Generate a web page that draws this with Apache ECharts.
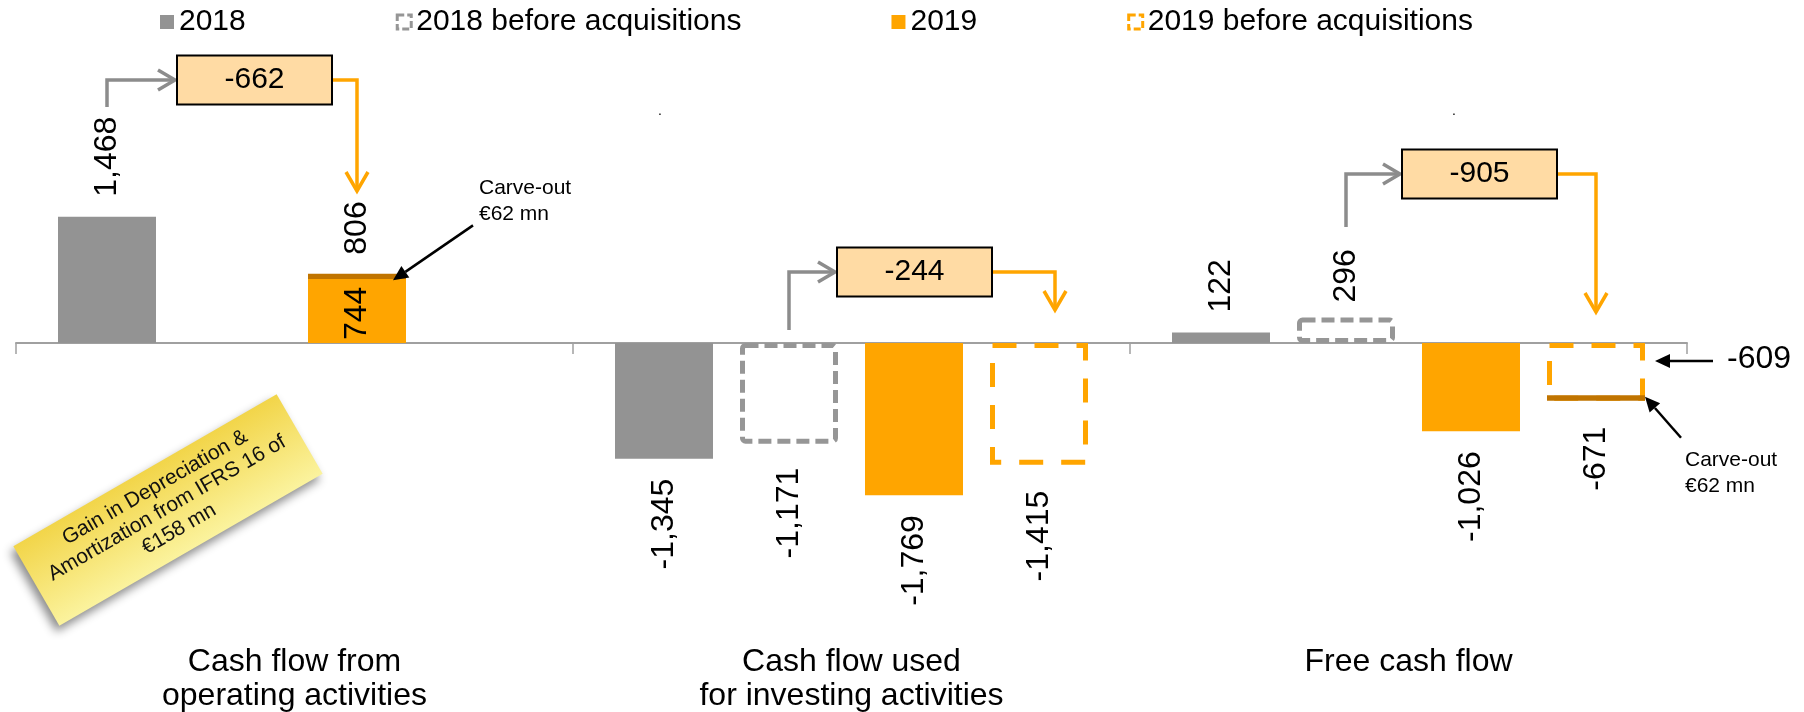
<!DOCTYPE html>
<html>
<head>
<meta charset="utf-8">
<script src="https://cdn.jsdelivr.net/npm/echarts@6.0.0/dist/echarts.min.js"></script>
<style>
  html, body { margin: 0; padding: 0; background: #fff; }
  #chart { width: 1804px; height: 712px; }
</style>
</head>
<body>
<div id="chart"></div>
<script>
// ---- data ----
const categories = ["Cash flow from\noperating activities", "Cash flow used\nfor investing activities", "Free cash flow"];
const cf2018 = [1468, -1345, 122];
const cf2018Before = [null, -1171, 296];
const cf2019 = [744, -1769, -1026];
const carveOut2019 = [62, null, null];          // stacked on the 2019 operating bar
const cf2019Before = [null, -1415, -671];
const afterCarveOut = [null, null, -609];       // 2019 FCF before acquisitions, excluding carve-out
const carveOutBefore = [null, null, -62];
const deltas = [-662, -244, -905];
const deltaFrom = [0, 1, 1];                    // bar slot the change starts from
const deltaTo = [2, 3, 3];                      // bar slot it ends at

// ---- style / layout ----
const FONT = '"Liberation Sans", Arial, Helvetica, sans-serif';
const GRAY = "#939393", DASH_GRAY = "#969696", ORANGE = "#FFA500", DARK = "#C07400";
const ARROW_GRAY = "#8C8C8C", BOX_FILL = "#FFDBA4";
const BAR_W = 98, BAR_GAP = 0.2755;

const fmt = v => v.toLocaleString("en-US");

function barData(values, posLabel, negDist) {
  return values.map(v => v == null ? "-" : {
    value: v,
    label: v >= 0
      ? (posLabel || { position: "top", align: "left" })
      : Object.assign({ position: "bottom", align: "right" }, negDist ? { distance: negDist } : {})
  });
}

const valueLabel = {
  show: true, rotate: 90, verticalAlign: "middle", distance: 20,
  fontSize: 32, color: "#000", fontFamily: FONT,
  formatter: p => fmt(p.value)
};

const barBase = { type: "bar", barWidth: BAR_W, barGap: (BAR_GAP * 100) + "%" };

const option = {
  animation: false,
  backgroundColor: "#fff",
  legend: {
    left: 155, top: 2, itemGap: 150, itemWidth: 14, itemHeight: 14,
    selectedMode: false,
    textStyle: { fontSize: 30, color: "#000", fontFamily: FONT },
    data: [
      { name: "2018", icon: "rect" },
      { name: "2018 before acquisitions", icon: "rect",
        itemStyle: { color: "#fff", borderColor: DASH_GRAY, borderWidth: 3, borderType: [7, 3] } },
      { name: "2019", icon: "rect" },
      { name: "2019 before acquisitions", icon: "rect",
        itemStyle: { color: "#fff", borderColor: ORANGE, borderWidth: 3, borderType: [7, 3] } }
    ]
  },
  grid: { left: 16, right: 117, top: 85, bottom: 111, containLabel: false, outerBoundsMode: "none" },
  xAxis: [
    {
      type: "category", data: categories,
      axisLine: { onZero: true, lineStyle: { color: "#A0A0A0", width: 2 } },
      axisTick: { show: true, length: 11, lineStyle: { color: "#A0A0A0", width: 1.5 } },
      axisLabel: { margin: 44, fontSize: 32, lineHeight: 34, color: "#000", fontFamily: FONT, interval: 0 },
      splitLine: { show: false }
    },
    { type: "category", data: categories, show: false }
  ],
  yAxis: { type: "value", min: -3000, max: 3000, show: false, splitLine: { show: false } },
  series: [
    Object.assign({}, barBase, {
      name: "2018", data: barData(cf2018),
      itemStyle: { color: GRAY }, label: valueLabel
    }),
    Object.assign({}, barBase, {
      name: "2018 before acquisitions",
      data: barData(cf2018Before, { position: "top", align: "left", distance: 15 }, 24),
      itemStyle: { color: "rgba(0,0,0,0)", borderColor: DASH_GRAY, borderWidth: 5, borderType: [13, 6], borderRadius: 3 },
      label: valueLabel
    }),
    Object.assign({}, barBase, {
      name: "2019", stack: "y19", data: barData(cf2019, { position: "insideBottom", align: "left", distance: 3 }),
      itemStyle: { color: ORANGE }, label: valueLabel
    }),
    Object.assign({}, barBase, {
      name: "Carve-out 2019", stack: "y19", data: barData(carveOut2019),
      itemStyle: { color: DARK },
      label: Object.assign({}, valueLabel, { distance: 19, formatter: p => fmt(cf2019[p.dataIndex] + p.value) })
    }),
    Object.assign({}, barBase, {
      name: "2019 before acquisitions", data: barData(cf2019Before, null, 26),
      itemStyle: { color: "rgba(0,0,0,0)", borderColor: ORANGE, borderWidth: 5, borderType: [24, 18] },
      label: valueLabel
    }),
    // overlay axis: carve-out drawn inside the "2019 before acquisitions" slot
    Object.assign({}, barBase, { name: "_s0", xAxisIndex: 1, data: [] }),
    Object.assign({}, barBase, { name: "_s1", xAxisIndex: 1, data: [] }),
    Object.assign({}, barBase, { name: "_s2", xAxisIndex: 1, data: [] }),
    Object.assign({}, barBase, {
      name: "_base", xAxisIndex: 1, stack: "carve", data: afterCarveOut,
      itemStyle: { color: "rgba(0,0,0,0)" }, silent: true
    }),
    Object.assign({}, barBase, {
      name: "Carve-out before", xAxisIndex: 1, stack: "carve", data: carveOutBefore,
      itemStyle: { color: DARK }
    })
  ]
};

const chart = echarts.init(document.getElementById("chart"), null, { renderer: "canvas" });
chart.setOption(option);

// ---- annotations, positioned from the chart's own scales ----
const SLOT = BAR_W * (1 + BAR_GAP);
const catX = i => chart.convertToPixel({ xAxisIndex: 0 }, i);
const slotX = (i, s) => catX(i) + (s - 1.5) * SLOT;
const yPix = v => chart.convertToPixel({ yAxisIndex: 0 }, v);

const boxCY = [80, 272, 174];
const boxDX = [-40, 63, 71];
const grayStartY = [107, 330, 227];
const orangeTipY = [191, 310, 312];
const orangeDX = [0, 16, 0];
const BOX_W = 155, BOX_H = 49;

const g = [];
const stroke = (color, w) => ({ stroke: color, lineWidth: w, fill: null, lineJoin: "miter" });

deltas.forEach((d, i) => {
  const bx = catX(i) + boxDX[i], by = boxCY[i];
  const l = bx - BOX_W / 2, r = bx + BOX_W / 2;
  const fx = slotX(i, deltaFrom[i]), tx = slotX(i, deltaTo[i]) + orangeDX[i];
  g.push({ type: "polyline", z: 50, shape: { points: [[fx, grayStartY[i]], [fx, by], [l - 2, by]] }, style: stroke(ARROW_GRAY, 3.5) });
  g.push({ type: "polyline", z: 50, shape: { points: [[l - 19, by - 10], [l - 2, by], [l - 19, by + 10]] }, style: stroke(ARROW_GRAY, 3.5) });
  g.push({ type: "polyline", z: 50, shape: { points: [[r, by], [tx, by], [tx, orangeTipY[i]]] }, style: stroke(ORANGE, 3.5) });
  g.push({ type: "polyline", z: 50, shape: { points: [[tx - 11, orangeTipY[i] - 19], [tx, orangeTipY[i]], [tx + 11, orangeTipY[i] - 19]] }, style: stroke(ORANGE, 3.5) });
  g.push({ type: "rect", z: 51, shape: { x: l, y: by - BOX_H / 2, width: BOX_W, height: BOX_H }, style: { fill: BOX_FILL, stroke: "#000", lineWidth: 2 } });
  g.push({ type: "text", z: 52, x: bx, y: by, style: { text: fmt(d), fontSize: 30, fontFamily: FONT, fill: "#000", align: "center", verticalAlign: "middle" } });
});

function pointer(x1, y1, x2, y2) {
  const a = Math.atan2(y2 - y1, x2 - x1), L = 15, W = 7;
  const hx = x2 - L * Math.cos(a), hy = y2 - L * Math.sin(a);
  g.push({ type: "line", z: 60, shape: { x1: x1, y1: y1, x2: hx, y2: hy }, style: { stroke: "#000", lineWidth: 2.5 } });
  g.push({ type: "polygon", z: 60, shape: { points: [[x2, y2], [hx + W * Math.sin(a), hy - W * Math.cos(a)], [hx - W * Math.sin(a), hy + W * Math.cos(a)]] }, style: { fill: "#000" } });
}

// carve-out callouts
const tipL = [slotX(0, 2) + 36, yPix(cf2019[0] + carveOut2019[0] / 2) + 4];
pointer(tipL[0] + 80, tipL[1] - 55, tipL[0], tipL[1]);
const tipR = [slotX(2, 3) + 49, yPix(cf2019Before[2]) - 4];
pointer(tipR[0] + 36, tipR[1] + 41, tipR[0], tipR[1]);
pointer(1713, 361, slotX(2, 3) + 59, 361);

const noteText = { fontSize: 21, fontFamily: FONT, fill: "#000", lineHeight: 26 };
g.push({ type: "text", z: 60, x: 479, y: 175, style: Object.assign({ text: "Carve-out\n€62 mn", align: "left", verticalAlign: "top" }, noteText) });
g.push({ type: "text", z: 60, x: 1685, y: 447, style: Object.assign({ text: "Carve-out\n€62 mn", align: "left", verticalAlign: "top" }, noteText) });
g.push({ type: "text", z: 60, x: 1727, y: 359, style: { text: fmt(afterCarveOut[2]), fontSize: 32, fontFamily: FONT, fill: "#000", align: "left", verticalAlign: "middle" } });

// stray dots in the source slide
g.push({ type: "text", z: 60, x: 658, y: 104, style: { text: ".", fontSize: 14, fill: "#000", fontFamily: FONT } });
g.push({ type: "text", z: 60, x: 1452, y: 104, style: { text: ".", fontSize: 14, fill: "#000", fontFamily: FONT } });

// sticky note
g.push({
  type: "group", x: 168, y: 510, rotation: Math.PI / 6, z: 40,
  children: [
    {
      type: "rect", z: 40, shape: { x: -152, y: -46, width: 304, height: 92 },
      style: {
        fill: { type: "linear", x: 0, y: 0, x2: 0, y2: 1, colorStops: [{ offset: 0, color: "#F2D549" }, { offset: 1, color: "#FBF39E" }] },
        shadowBlur: 10, shadowColor: "rgba(0,0,0,0.45)", shadowOffsetX: -3, shadowOffsetY: 6
      }
    },
    {
      type: "text", z: 41, x: 0, y: -2,
      style: { text: "Gain in Depreciation &\nAmortization from IFRS 16 of\n€158 mn", fontSize: 21, lineHeight: 24, fontFamily: FONT, fill: "#111", align: "center", verticalAlign: "middle" }
    }
  ]
});

chart.setOption({ graphic: g });
</script>
</body>
</html>
